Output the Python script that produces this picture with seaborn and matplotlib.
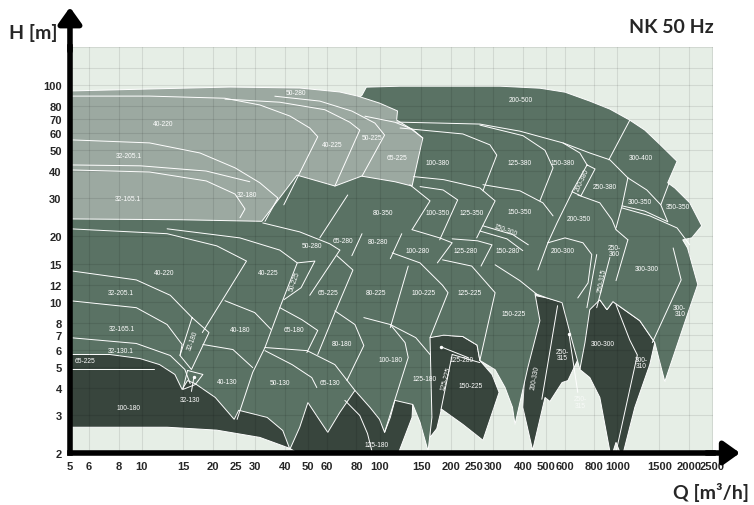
import matplotlib
matplotlib.use("Agg")
import matplotlib.pyplot as plt
import pandas as pd
import seaborn as sns

sns.set_style("white")
plt.rcParams["font.family"] = ["Liberation Sans", "DejaVu Sans"]

BG, MED, LIGHT, DARK = "#e6eee6", "#5a7264", "#9ca9a1", "#38453d"

# ---- axes ticks ------------------------------------------------------------
x_ticks = [5, 6, 8, 10, 15, 20, 25, 30, 40, 50, 60, 80, 100, 150, 200, 250, 300,
           400, 500, 600, 800, 1000, 1500, 2000, 2500]
y_ticks = [2, 3, 4, 5, 6, 7, 8, 10, 12, 15, 20, 30, 40, 50, 60, 70, 80, 100, 120, 150]
y_labels = ["2", "3", "4", "5", "6", "7", "8", "10", "12", "15", "20", "30", "40",
            "50", "60", "70", "80", "100", "", ""]

# ---- silhouettes (Q [m3/h], H [m]) -------------------------------------------
medium_Q = [5, 7.36, 9.84, 11.9, 13.8, 14.8, 15.6, 16.8, 20.4, 24.5, 25.6, 33.7, 39.2, 42.0,
            46.2, 50.0, 55.0, 60.6, 68.1, 78.8, 91.1, 100, 105, 111, 116, 138, 148, 160, 166,
            163, 186, 224, 257, 264, 306, 337, 362, 371, 420, 472, 450, 506, 585, 631, 695,
            730, 765, 843, 903, 957, 1241, 1435, 1581, 2013, 2175, 1970, 1880, 2052, 2260,
            2013, 1742, 1626, 1780, 1506, 1303, 1127, 929, 765, 602, 472, 321, 198, 122, 88,
            84.4, 46.2, 5]
medium_H = [5.70, 5.70, 5.46, 5.12, 4.61, 3.93, 4.32, 4.18, 3.61, 2.86, 3.15, 2.92, 2.54, 2.08,
            2.63, 3.42, 2.92, 2.49, 3.08, 3.89, 3.25, 2.86, 2.49, 2.92, 3.50, 3.35, 2.77, 2.04,
            2.92, 6.82, 7.0, 6.9, 6.3, 5.35, 4.85, 4.01, 3.25, 2.71, 4.96, 8.17, 10.9, 10.4,
            9.89, 7.2, 4.86, 6.47, 9.18, 10.2, 9.18, 10.0, 8.17, 6.47, 4.27, 9.38, 12.0, 17.7,
            19.3, 19.7, 22.4, 28.6, 33.5, 35.4, 44.5, 53.3, 62.0, 68.9, 77.5, 84.4, 92.8, 96.8,
            98.9, 98.9, 98.9, 97.9, 89.9, 51.3, 51.3]

light_Q = [5, 10.8, 23.5, 46.2, 68, 81, 100, 119, 118, 134, 152, 137, 116, 84, 65, 45, 32,
           14.5, 5]
light_H = [94, 96, 98, 97, 93, 89, 82.6, 76, 69, 63.4, 57, 34.2, 35.8, 38, 34.2, 38.4, 23.5,
           23.9, 24.1]

darkA_Q = [5, 7.36, 10.8, 17.6, 46.2, 82.6, 116, 138, 137, 118, 48.5, 42, 31.4, 20.7, 12.8, 5]
darkA_H = [5.70, 5.82, 5.52, 5.52, 4.46, 4.23, 3.61, 3.42, 2.92, 1.9, 1.9, 2.10, 2.36, 2.55,
           2.63, 2.63]
darkB_Q = [155, 186, 224, 257, 264, 297, 318, 272, 224, 182, 174, 163]
darkB_H = [6.82, 7.0, 6.9, 6.3, 5.35, 4.61, 3.81, 2.29, 2.71, 3.19, 2.59, 2.36]
darkC_Q = [409, 506, 602, 677, 688, 619, 585, 520, 496, 440, 400, 418]
darkC_H = [10.9, 10.4, 9.89, 7.59, 5.52, 4.32, 4.23, 3.46, 3.61, 2.06, 3.25, 7.59]
darkD_Q = [730, 843, 903, 957, 1241, 1435, 1367, 1183, 1045, 986, 940, 843, 765, 695]
darkD_H = [9.38, 10.2, 9.18, 10.0, 8.17, 6.47, 5.12, 3.25, 1.9, 2.24, 1.9, 3.61, 4.46, 4.86]

# ---- boundary curves between pump ranges --------------------------------------
light_lines = [
    ([5, 10.8, 22.4, 31.4, 42, 50.9, 55, 39.6], [89, 89, 87, 81, 72, 63.4, 57.8, 28.0]),
    ([22.4, 38.1, 58.9, 75, 82.6, 64.9], [86.2, 83.4, 77, 67.4, 62, 34.2]),
    ([36.3, 56.1, 76.5, 95.6, 105, 84.4], [88.9, 84.4, 75.9, 66.8, 58.8, 38]),
    ([86.8, 116, 137, 152], [71.9, 67.4, 62.7, 57]),
    ([5, 10.8, 17.6, 24.7, 31.4, 37.4, 33.0], [55.9, 54.1, 48.6, 41.5, 35.4, 30.1, 23.5]),
    ([5, 9.9, 18.7, 28.5], [42.8, 42.4, 40.1, 35.8]),
    ([5, 10.8, 18.7, 24.7, 27.2, 25.9], [40.6, 39.7, 36.1, 31.4, 26.8, 24.4]),
]
medium_lines = [
    ([118, 179, 264, 389, 590, 765, 929, 1106], [67.5, 66.8, 66.1, 61.3, 54.1, 48.6, 45.2, 37.3]),
    ([1127, 920], [68.9, 45.2]),
    ([122, 224, 291, 311, 272], [63.4, 59.5, 53.0, 47.5, 32.5]),
    ([264, 401, 496, 536, 472], [65.4, 58.4, 50.0, 41.5, 29.2]),
    ([590, 695, 745], [54.1, 48.6, 42.8]),
    ([745, 805, 702, 644, 745], [42.8, 41.0, 30.8, 32.2, 42.8]),
    ([1106, 1045, 986], [37.3, 27.7, 21.9]),
    ([1106, 1328, 1521], [37.3, 32.8, 28.0]),
    ([1643, 1521, 1626], [35.0, 28.0, 23.4]),
    ([1045, 1303, 1626], [27.7, 26.2, 23.4]),
    ([1045, 1367, 1780, 2013], [27.1, 24.9, 21.9, 18.3]),
    ([134, 163, 137], [34.7, 29.2, 21.5]),
    ([148, 185, 213, 179], [34.0, 32.8, 29.5, 19.3]),
    ([139, 186, 264, 306, 256], [37.8, 36.6, 33.5, 29.2, 19.7]),
    ([272, 389, 486, 536], [34.7, 32.5, 28.6, 24.9]),
    ([649, 557, 510], [32.5, 23.1, 18.7]),
    ([272, 363, 422], [22.4, 20.4, 18.3]),
    ([264, 343, 400], [21.2, 19.5, 17.2]),
    ([681, 843, 948, 986], [31.1, 28.6, 23.9, 21.5]),
    ([986, 1106], [21.5, 19.3]),
    ([73.5, 56.1], [31.1, 19.7]),
    ([32.3, 46.2, 61.8, 68.1], [23.1, 21.0, 18.5, 17.3]),
    ([68.1, 50.9], [17.3, 10.7]),
    ([84.4, 76.5], [20.6, 16.3]),
    ([124, 111], [20.6, 15.8]),
    ([202, 258, 297, 267], [19.5, 19.1, 18.3, 14.6]),
    ([510, 463], [18.7, 14.0]),
    ([510, 602, 716, 780, 752, 681], [18.7, 19.7, 18.7, 16.5, 12.2, 10.4]),
    ([5, 12.8, 20.7, 27.6, 18.0], [21.7, 20.6, 18.1, 15.4, 7.20]),
    ([12.8, 25.9, 38.1, 45.1, 38.1, 33.0, 29.3, 25.2], [21.7, 19.7, 17.3, 15.1, 9.38, 6.14, 4.71, 2.86]),
    ([45.1, 53.5, 46.8, 39.6], [15.1, 15.4, 11.6, 10.2]),
    ([66.2, 77.3, 64.9, 55.0], [16.3, 14.0, 8.9, 5.70]),
    ([38.1, 47.2, 55, 49.5], [9.38, 8.25, 7.36, 5.82]),
    ([64.9, 78.8, 85.9, 72.9], [9.07, 7.84, 6.27, 4.32]),
    ([33.0, 49.6, 64.9, 78.8], [6.14, 5.94, 5.12, 3.89]),
    ([33.0, 42.9, 51.9, 54.5], [5.94, 5.12, 4.46, 4.01]),
    ([22.4, 29.9, 35.0], [10.1, 8.90, 7.44]),
    ([18.1, 24.2, 29.3], [6.34, 6.01, 4.96]),
    ([5, 9.5, 13.2, 16.3], [13.9, 12.6, 10.7, 8.44]),
    ([5, 9.5, 12.8, 14.8, 14.5], [10.1, 9.38, 7.84, 6.34, 5.64]),
    ([5, 9.5, 13.2, 15.2, 16.0], [6.82, 6.41, 5.64, 4.86, 4.18]),
    ([16.3, 19.2, 16.2, 14.5, 16.3], [8.44, 7.20, 4.86, 5.64, 8.44]),
    ([15.6, 18.1, 16.8, 14.9, 15.6], [4.81, 4.61, 4.14, 3.93, 4.81]),
    ([85.9, 111, 128, 132, 105], [8.44, 7.84, 6.47, 5.52, 2.49]),
    ([111, 142, 163], [7.84, 6.82, 5.70]),
    ([132, 111], [14.6, 7.59]),
    ([113, 148, 184, 194, 163], [16.8, 15.1, 11.9, 11.0, 6.82]),
    ([184, 244, 306, 264], [15.6, 14.6, 11.0, 5.35]),
    ([306, 389, 459], [14.8, 12.5, 10.8]),
    ([137, 179, 202, 175], [21.5, 19.7, 18.7, 15.1]),
    ([1714, 1852, 1401], [17.7, 12.6, 6.47]),
    ([1106, 986], [19.3, 12.5]),
    ([818, 744], [16.5, 9.38]),
    ([929, 818], [16.0, 9.38]),
]
dark_lines = [
    ([5, 11.3], [4.91, 4.91]),
    ([71.5, 82.6, 89.0, 93.0], [3.50, 2.98, 2.46, 2.03]),
    ([202, 181], [5.7, 3.15]),
    ([202, 264], [5.7, 5.23]),
    ([560, 481], [9.58, 3.54]),
    ([986, 1127, 1212, 986], [9.68, 6.64, 5.67, 2.02]),
    ([181, 235], [6.19, 5.52]),
    ([16.6, 16.2], [4.50, 3.85]),
    ([625, 681], [7.12, 3.81]),
]
dot_Q = [181, 16.6, 625]
dot_H = [6.19, 4.50, 7.12]

# ---- pump labels (text, Q, H, rotation) ------------------------------------------
lab_text = ["50-280", "40-220", "32-205.1", "32-165.1", "32-180", "40-225", "50-225", "65-225",
            "200-500", "100-380", "125-380", "150-380", "200-380", "250-380", "300-400",
            "300-350", "350-350", "80-350", "100-350", "125-350", "150-350", "150-300",
            "200-350", "250-\n360", "200-300", "50-280", "65-280", "80-280", "100-280",
            "125-280", "150-280", "40-220", "40-225", "50-225", "65-225", "80-225", "100-225",
            "125-225", "150-225", "250-315", "300-300", "300-\n310", "32-205.1", "32-165.1",
            "32-130.1", "32-180", "40-180", "65-180", "80-180", "100-180", "125-180", "40-130",
            "50-130", "65-130",
            "65-225", "100-180", "125-180", "125-280", "125-225", "150-225", "200-330",
            "250-\n315", "300-300", "300-\n310", "32-130"]
lab_Q = [44.5, 12.3, 8.85, 8.77, 27.6, 63.0, 93, 118,
         393, 176, 389, 590, 714, 885, 1252, 1241, 1791, 103, 176, 245, 389, 337,
         688, 966, 590, 52, 70.5, 98, 144, 229, 346, 12.4, 33.9, 44.1, 60.6, 96.5, 153,
         240, 367, 860, 1330, 1827, 8.19, 8.27, 8.19, 16.4, 25.9, 43.7, 69.4, 111, 154, 22.9,
         38.1, 61.8,
         5.81, 8.77, 97.5, 221, 190, 242, 450, 585, 870, 1262, 15.9]
lab_H = [92.8, 66.8, 47.5, 30.1, 31.1, 53.3, 57.0, 46.1,
         86.1, 44.1, 44.1, 44.1, 36.5, 34.0, 46.1, 28.9, 27.4, 25.9, 25.7, 25.7, 26.0, 21.5,
         24.1, 17.2, 17.3, 18.1, 19.1, 18.9, 17.2, 17.2, 17.2, 13.6, 13.6, 12.5, 11.0, 11.0,
         11.0, 11.0, 8.80, 12.6, 14.2, 9.1, 11.0, 7.5, 5.94, 6.68, 7.44, 7.44, 6.41, 5.41,
         4.42, 4.28, 4.23, 4.23,
         5.34, 3.25, 2.19, 5.41, 4.46, 4.09, 4.51, 5.70, 6.41, 5.23, 3.55]
lab_rot = [0, 0, 0, 0, 0, 0, 0, 0,
           0, 0, 0, 0, 65, 0, 0, 0, 0, 0, 0, 0, 0, -20,
           0, 0, 0, 0, 0, 0, 0, 0, 0, 0, 0, 70, 0, 0, 0,
           0, 0, 80, 0, 0, 0, 0, 0, 70, 0, 0, 0, 0, 0, 0,
           0, 0,
           0, 0, 0, 0, 75, 0, 80, 0, 0, 0, 0]

fig = plt.figure(figsize=(7.54, 5.06), dpi=100)
ax = fig.add_axes([0.0928, 0.1028, 0.8528, 0.8023])
ax.set_xscale("log")
ax.set_yscale("log")
ax.set_xlim(5, 2520)
ax.set_ylim(2, 150)
ax.set_facecolor(BG)

for q, h in [(darkA_Q, darkA_H), (darkB_Q, darkB_H), (darkC_Q, darkC_H), (darkD_Q, darkD_H)]:
    ax.fill(q, h, color=DARK, ec="white", lw=0.7, zorder=1.1)
ax.fill(medium_Q, medium_H, color=MED, ec="white", lw=0.7, zorder=1.2)
ax.fill(light_Q, light_H, color=LIGHT, ec="white", lw=0.7, zorder=1.3)

rows = []
for i, (q, h) in enumerate(light_lines + medium_lines + dark_lines):
    for j, (qq, hh) in enumerate(zip(q, h)):
        rows.append({"seg": i, "k": j, "Q": qq, "H": hh})
df = pd.DataFrame(rows)
n0 = len(ax.lines)
sns.lineplot(data=df, x="Q", y="H", units="seg", estimator=None, sort=False,
             color="white", linewidth=0.7, ax=ax, legend=False)
for ln in ax.lines[n0:]:
    ln.set_zorder(2)
sns.scatterplot(x=dot_Q, y=dot_H, color="white", s=6, linewidth=0, ax=ax, zorder=3)

for t, q, h, r in zip(lab_text, lab_Q, lab_H, lab_rot):
    ax.text(q, h, t, color="white", fontsize=4.8, ha="center", va="center",
            rotation=r, zorder=3, linespacing=0.9)
ax.text(700, 3.44, "250-\n315", color="white", alpha=0.7, fontsize=4.8, ha="center",
        va="center", zorder=3, linespacing=0.9)

ax.set_xticks(x_ticks)
ax.set_xticklabels([str(v) for v in x_ticks], fontsize=8, fontweight="bold")
ax.set_yticks(y_ticks)
ax.set_yticklabels(y_labels, fontsize=8, fontweight="bold")
ax.minorticks_off()
ax.tick_params(length=0, pad=6)
ax.set_axisbelow("line")
ax.grid(True, color="k", alpha=0.09, lw=0.8)
ax.set_xlabel("")
ax.set_ylabel("")
for s in ["top", "right"]:
    ax.spines[s].set_visible(False)
for s in ["left", "bottom"]:
    ax.spines[s].set_color("black")
    ax.spines[s].set_linewidth(4)
    ax.spines[s].set_zorder(4)

ax.annotate("", xy=(0, 1.098), xytext=(0, 0.99), xycoords="axes fraction",
            arrowprops=dict(arrowstyle="-|>,head_length=0.7,head_width=0.5", color="black",
                            lw=4, mutation_scale=14, shrinkA=0, shrinkB=0), annotation_clip=False)
ax.annotate("", xy=(1.042, 0), xytext=(0.99, 0), xycoords="axes fraction",
            arrowprops=dict(arrowstyle="-|>,head_length=0.7,head_width=0.5", color="black",
                            lw=4, mutation_scale=14, shrinkA=0, shrinkB=0), annotation_clip=False)

fig.text(0.044, 0.935, "H [m]", fontsize=14, fontweight="bold", family="Lato",
         ha="center", va="center")
fig.text(0.890, 0.945, "NK 50 Hz", fontsize=14, fontweight="bold", family="Lato",
         ha="center", va="center")
fig.text(0.943, 0.026, "Q [m³/h]", fontsize=14, fontweight="bold", family="Lato",
         ha="center", va="center")

fig.savefig("out.png", dpi=100)
